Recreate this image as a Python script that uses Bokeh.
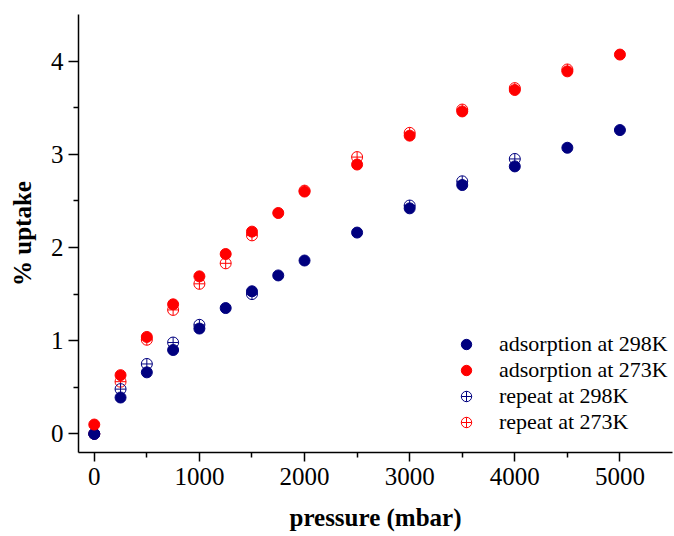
from bokeh.plotting import figure
from bokeh.models import Range1d, Legend, LegendItem
from bokeh.embed import file_html
from bokeh.resources import INLINE

# adsorption at 298K
p298 = [0, 250, 500, 750, 1000, 1250, 1500, 1750, 2000, 2500, 3000, 3500, 4000, 4500, 5000]
u298 = [0.0, 0.39, 0.66, 0.90, 1.13, 1.35, 1.53, 1.70, 1.86, 2.16, 2.42, 2.67, 2.87, 3.07, 3.26]
# adsorption at 273K
p273 = [0, 250, 500, 750, 1000, 1250, 1500, 1750, 2000, 2500, 3000, 3500, 4000, 4500, 5000]
u273 = [0.10, 0.63, 1.04, 1.39, 1.69, 1.93, 2.17, 2.37, 2.60, 2.89, 3.20, 3.46, 3.69, 3.89, 4.07]
# repeat at 298K
rp298 = [0, 250, 500, 750, 1000, 1500, 3000, 3500, 4000]
ru298 = [0.0, 0.48, 0.75, 0.98, 1.17, 1.50, 2.45, 2.71, 2.95]
# repeat at 273K
rp273 = [0, 250, 500, 750, 1000, 1250, 1500, 2000, 2500, 3000, 3500, 4000, 4500]
ru273 = [0.0, 0.56, 1.01, 1.33, 1.61, 1.83, 2.13, 2.61, 2.97, 3.23, 3.48, 3.71, 3.91]

x_ticks = [0, 1000, 2000, 3000, 4000, 5000]
x_minor = [500, 1500, 2500, 3500, 4500]
y_ticks = [0, 1, 2, 3, 4]
y_minor = [0.5, 1.5, 2.5, 3.5]

NAVY = "#00007F"
RED = "#FF0000"
FONT = "Liberation Serif"

p = figure(width=674, height=536, output_backend="svg", toolbar_location=None,
           x_range=Range1d(-150, 5500), y_range=Range1d(-0.2, 4.5),
           min_border_left=78, min_border_right=2, min_border_top=14, min_border_bottom=84)
p.outline_line_color = None
p.xgrid.grid_line_color = None
p.ygrid.grid_line_color = None

r_rep273 = p.scatter(rp273, ru273, marker="circle_cross", size=11, fill_color=None,
                     line_color=RED, line_width=1)
r_rep298 = p.scatter(rp298, ru298, marker="circle_cross", size=11, fill_color=None,
                     line_color=NAVY, line_width=1)
r_ads298 = p.scatter(p298, u298, marker="circle", size=11, fill_color=NAVY, line_color=NAVY)
r_ads273 = p.scatter(p273, u273, marker="circle", size=11, fill_color=RED, line_color=RED)

for ax in (p.xaxis[0], p.yaxis[0]):
    ax.axis_line_width = 1.5
    ax.major_tick_line_width = 1.5
    ax.minor_tick_line_width = 1.5
    ax.major_tick_in = 0
    ax.minor_tick_in = 0
    ax.major_label_text_font = FONT
    ax.major_label_text_font_size = "25px"
    ax.major_label_text_color = "black"
    ax.axis_label_text_font = FONT
    ax.axis_label_text_font_size = "25px"
    ax.axis_label_text_font_style = "bold"
    ax.axis_label_text_color = "black"
    ax.axis_line_color = "black"
    ax.major_tick_line_color = "black"
    ax.minor_tick_line_color = "black"

p.xaxis.ticker = x_ticks
p.xaxis[0].ticker.minor_ticks = x_minor
p.yaxis.ticker = y_ticks
p.yaxis[0].ticker.minor_ticks = y_minor
p.xaxis.major_tick_out = 9
p.xaxis.minor_tick_out = 5
p.yaxis.major_tick_out = 10
p.yaxis.minor_tick_out = 5
p.xaxis.major_label_standoff = 6
p.yaxis.major_label_standoff = 5
p.xaxis.axis_label = "pressure (mbar)"
p.yaxis.axis_label = "% uptake"
p.xaxis.axis_label_standoff = 16
p.yaxis.axis_label_standoff = 12

legend = Legend(items=[
    LegendItem(label="adsorption at 298K", renderers=[r_ads298]),
    LegendItem(label="adsorption at 273K", renderers=[r_ads273]),
    LegendItem(label="repeat at 298K", renderers=[r_rep298]),
    LegendItem(label="repeat at 273K", renderers=[r_rep273]),
], location=(375, 17))
legend.border_line_color = None
legend.background_fill_alpha = 0
legend.padding = 0
legend.margin = 0
legend.spacing = 0
legend.glyph_width = 26
legend.glyph_height = 26
legend.label_height = 20
legend.label_standoff = 20
legend.label_text_font = FONT
legend.label_text_font_size = "22px"
legend.label_text_color = "black"
p.add_layout(legend, "center")

open("out.html", "w").write(file_html(p, INLINE))
